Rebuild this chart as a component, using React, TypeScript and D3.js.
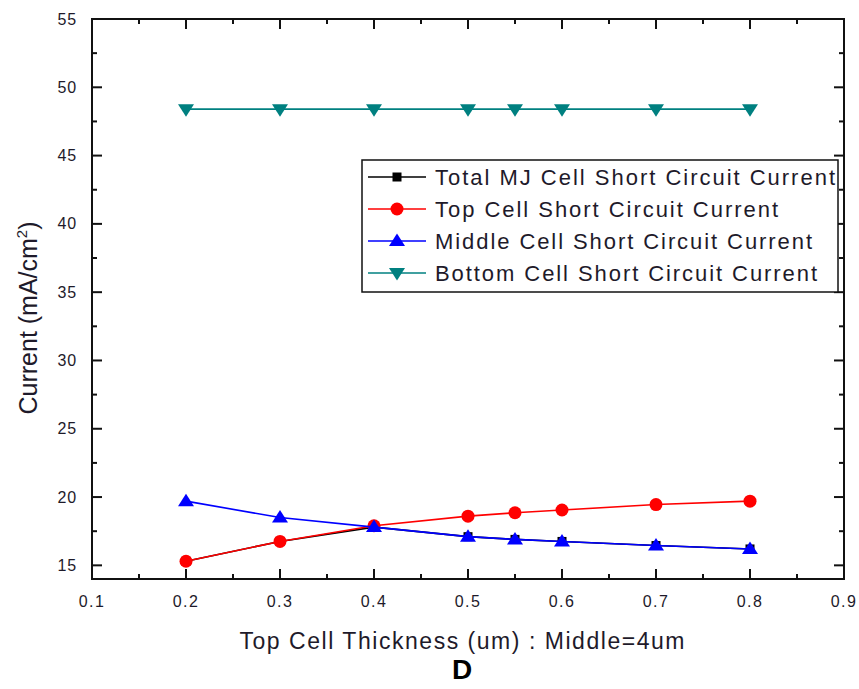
import React from "react";
import * as d3 from "d3";

// Top cell thickness (um) sampled in the simulation
const thickness = [0.2, 0.3, 0.4, 0.5, 0.55, 0.6, 0.7, 0.8];
// Short circuit currents (mA/cm^2)
const topCell = [15.3, 16.75, 17.9, 18.6, 18.85, 19.05, 19.45, 19.7];
const middleCell = [19.7, 18.5, 17.8, 17.1, 16.9, 16.75, 16.45, 16.2];
const bottomCell = [48.4, 48.4, 48.4, 48.4, 48.4, 48.4, 48.4, 48.4];
const totalCell = [15.3, 16.75, 17.8, 17.1, 16.9, 16.75, 16.45, 16.2];

const xTicks = [0.1, 0.2, 0.3, 0.4, 0.5, 0.6, 0.7, 0.8, 0.9];
const yTicks = [15, 20, 25, 30, 35, 40, 45, 50, 55];

const seriesNames = [
  "Total MJ Cell Short Circuit Current",
  "Top Cell Short Circuit Current",
  "Middle Cell Short Circuit Current",
  "Bottom Cell Short Circuit Current",
];

const W = 859;
const H = 689;
const L = 92, R = 844, T = 19, B = 579;
const FONT = "'Liberation Sans', Arial, sans-serif";
const TXT = "#1e1a2a";

type Marker = "square" | "circle" | "up" | "down";

function MarkerShape({ kind, x, y, color }: { kind: Marker; x: number; y: number; color: string }) {
  if (kind === "square") return <rect x={x - 4.5} y={y - 4.5} width={9} height={9} fill={color} />;
  if (kind === "circle") return <circle cx={x} cy={y} r={6.5} fill={color} />;
  if (kind === "up")
    return <path d={`M${x},${y - 7.5} L${x + 8},${y + 5} L${x - 8},${y + 5} Z`} fill={color} />;
  return <path d={`M${x},${y + 7.5} L${x + 8},${y - 5} L${x - 8},${y - 5} Z`} fill={color} />;
}

export default function App() {
  const x = d3.scaleLinear().domain([0.1, 0.9]).range([L, R]);
  const y = d3.scaleLinear().domain([14, 55]).range([B, T]);

  const series = [
    { name: seriesNames[0], values: totalCell, color: "#000000", marker: "square" as Marker },
    { name: seriesNames[1], values: topCell, color: "#ff0000", marker: "circle" as Marker },
    { name: seriesNames[2], values: middleCell, color: "#0000ff", marker: "up" as Marker },
    { name: seriesNames[3], values: bottomCell, color: "#008080", marker: "down" as Marker },
  ];

  const line = d3
    .line<number>()
    .x((_, i) => x(thickness[i]))
    .y((d) => y(d));

  const xMinor = d3.range(0.15, 0.9, 0.1);
  const yMinor = d3.range(17.5, 55, 5);

  const legendEnds = [835, 778, 812, 817];
  const legendX = 362, legendY = 160, legendW = 476, legendH = 132;
  const rowY = [177, 209, 241, 273];

  return (
    <svg width={W} height={H} style={{ position: "absolute", left: 0, top: 0, background: "#fff" }}>
      {/* data lines and markers */}
      {series.map((s) => (
        <g key={s.name}>
          <path d={line(s.values) || ""} fill="none" stroke={s.color} strokeWidth={1.6} />
          {s.values.map((v, i) => (
            <MarkerShape key={i} kind={s.marker} x={x(thickness[i])} y={y(v)} color={s.color} />
          ))}
        </g>
      ))}

      {/* frame */}
      <rect x={L} y={T} width={R - L} height={B - T} fill="none" stroke="#111" strokeWidth={2} />

      {/* x ticks, mirrored top and bottom */}
      {xTicks.map((t) => (
        <g key={`xt${t}`}>
          <line x1={x(t)} x2={x(t)} y1={B} y2={B - 10} stroke="#111" strokeWidth={2} />
          <line x1={x(t)} x2={x(t)} y1={T} y2={T + 10} stroke="#111" strokeWidth={2} />
          <text x={x(t)} y={607} textAnchor="middle" fontFamily={FONT} fontSize={16} letterSpacing={1.5} fill={TXT}>
            {d3.format(".1f")(t)}
          </text>
        </g>
      ))}
      {xMinor.map((t) => (
        <g key={`xm${t}`}>
          <line x1={x(t)} x2={x(t)} y1={B} y2={B - 5} stroke="#111" strokeWidth={2} />
          <line x1={x(t)} x2={x(t)} y1={T} y2={T + 5} stroke="#111" strokeWidth={2} />
        </g>
      ))}

      {/* y ticks, mirrored left and right */}
      {yTicks.map((t) => (
        <g key={`yt${t}`}>
          <line x1={L} x2={L + 10} y1={y(t)} y2={y(t)} stroke="#111" strokeWidth={2} />
          <line x1={R} x2={R - 10} y1={y(t)} y2={y(t)} stroke="#111" strokeWidth={2} />
          <text x={77} y={y(t) + 5.5} textAnchor="end" fontFamily={FONT} fontSize={16} letterSpacing={0.8} fill={TXT}>
            {t}
          </text>
        </g>
      ))}
      {yMinor.map((t) => (
        <g key={`ym${t}`}>
          <line x1={L} x2={L + 5} y1={y(t)} y2={y(t)} stroke="#111" strokeWidth={2} />
          <line x1={R} x2={R - 5} y1={y(t)} y2={y(t)} stroke="#111" strokeWidth={2} />
        </g>
      ))}

      {/* legend */}
      <rect x={legendX} y={legendY} width={legendW} height={legendH} fill="#fff" stroke="#111" strokeWidth={1.5} />
      {series.map((s, i) => (
        <g key={`lg${i}`}>
          <line x1={368} x2={426} y1={rowY[i]} y2={rowY[i]} stroke={s.color} strokeWidth={1.6} />
          <MarkerShape kind={s.marker} x={397} y={rowY[i]} color={s.color} />
          <text
            x={435}
            y={rowY[i] + 8}
            fontFamily={FONT}
            fontSize={22}
            fill={TXT}
            textLength={legendEnds[i] - 435}
            lengthAdjust="spacing"
          >
            {s.name}
          </text>
        </g>
      ))}

      {/* axis titles */}
      <text
        x={462}
        y={649}
        textAnchor="middle"
        fontFamily={FONT}
        fontSize={23}
        fill={TXT}
        textLength={445}
        lengthAdjust="spacing"
      >
        Top Cell Thickness (um) : Middle=4um
      </text>
      <text x={462} y={679} textAnchor="middle" fontFamily={FONT} fontSize={28} fontWeight="bold" fill="#000">
        D
      </text>
      <text
        transform={`translate(37,318) rotate(-90)`}
        textAnchor="middle"
        fontFamily={FONT}
        fontSize={25}
        fill={TXT}
      >
        Current (mA/cm<tspan dy={-10} fontSize={15}>2</tspan>
        <tspan dy={10}>)</tspan>
      </text>
    </svg>
  );
}
